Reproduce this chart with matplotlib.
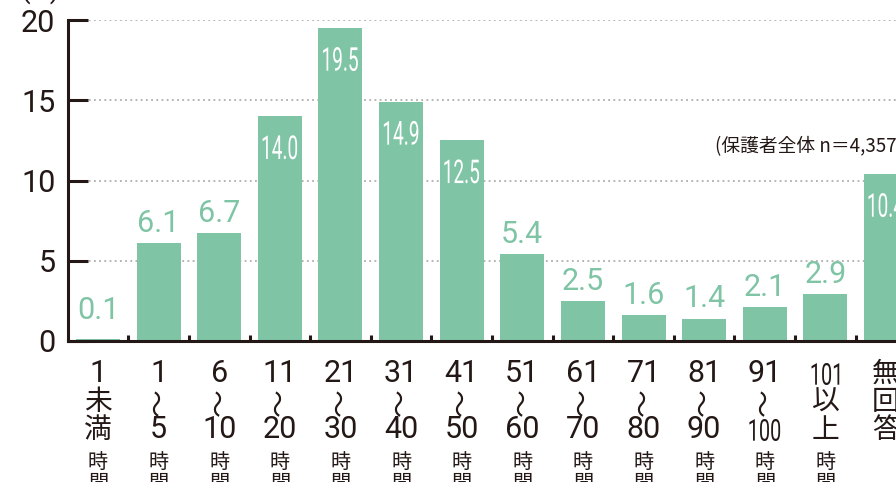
import matplotlib
matplotlib.use("Agg")
import matplotlib.pyplot as plt
from matplotlib.font_manager import FontProperties
from matplotlib.textpath import TextPath
from matplotlib.patches import PathPatch
from matplotlib.transforms import Affine2D, IdentityTransform, blended_transform_factory

# Data (%)
categories = ['1未満', '1〜5', '6〜10', '11〜20', '21〜30', '31〜40', '41〜50',
              '51〜60', '61〜70', '71〜80', '81〜90', '91〜100', '101以上', '無回答']
values = [0.1, 6.1, 6.7, 14.0, 19.5, 14.9, 12.5, 5.4, 2.5, 1.6, 1.4, 2.1, 2.9, 10.4]
# stacked tick label lines (top / middle / bottom), plus 時間 unit
label_top = ['1', '1', '6', '11', '21', '31', '41', '51', '61', '71', '81', '91', '101', '無']
label_mid = ['未', '〜', '〜', '〜', '〜', '〜', '〜', '〜', '〜', '〜', '〜', '〜', '以', '回']
label_bot = ['満', '5', '10', '20', '30', '40', '50', '60', '70', '80', '90', '100', '上', '答']
has_unit = [c != '無回答' for c in categories]
yticks = [0, 5, 10, 15, 20]
note = '(保護者全体 n＝4,357)'

W, H = 896, 482
GREEN = '#80c4a6'
DARK = '#231815'
NUM = FontProperties(family='Roboto', weight='normal')
CJK = 'Noto Sans CJK JP'

fig = plt.figure(figsize=(W / 100, H / 100), dpi=100)
ax = fig.add_axes([68 / W, 1 - 341 / H, 1 - 68 / W, (341 - 20) / H])

x = list(range(len(values)))
ax.bar(x, values, width=0.726, color=GREEN, zorder=2)
ax.set_xlim(-0.495, 13.165)
ax.set_ylim(0, 20)

# axes styling
for s in ['top', 'right']:
    ax.spines[s].set_visible(False)
for s in ['left', 'bottom']:
    ax.spines[s].set_linewidth(2.2)
    ax.spines[s].set_color(DARK)
    ax.spines[s].set_zorder(4)
ax.set_yticks(yticks)
ax.set_yticklabels([str(t) for t in yticks], fontproperties=NUM, fontsize=22, color=DARK)
ax.tick_params(axis='y', direction='in', length=14.5, width=2.2, color=DARK, pad=9)
ax.set_xticks([i + 0.5 for i in x[:-1]])
ax.set_xticklabels([])
ax.tick_params(axis='x', direction='in', length=4.5, width=2.2, color=DARK)
ax.yaxis.grid(True, linestyle=(0, (1.2, 2.2)), linewidth=1.1, color='#a0a0a0', zorder=0)
ax.set_axisbelow(True)


def narrow_text(xpx, ypx, s, height_px, squeeze, color, prop=NUM):
    """Draw horizontally condensed text centred at display (xpx, ypx)."""
    tp = TextPath((0, 0), s, size=100, prop=prop)
    ext = tp.get_extents()
    sy = height_px / ext.height
    tr = (Affine2D().translate(-(ext.x0 + ext.x1) / 2, -(ext.y0 + ext.y1) / 2)
          .scale(sy * squeeze, sy).translate(xpx, ypx))
    fig.add_artist(PathPatch(tr.transform_path(tp), fc=color, ec='none',
                             transform=IdentityTransform(), zorder=5))


# value labels
for i, v in enumerate(values):
    if v >= 10:
        px, py = ax.transData.transform((i, v))
        narrow_text(px, py - 31, f'{v:.1f}', 24, 0.58, 'white')
    else:
        ax.annotate(f'{v:.1f}', (i, max(v, 0.7)), xytext=(0, 8), textcoords='offset points',
                    ha='center', va='baseline', fontproperties=NUM, fontsize=22,
                    color=GREEN, zorder=5)

# stacked category labels below the axis
bt = blended_transform_factory(ax.transData, fig.transFigure)
for i in x:
    rows = [(label_top[i], 374), (label_mid[i], 402), (label_bot[i], 430)]
    for txt, ypx in rows:
        yf = 1 - ypx / H
        if txt == '〜':
            ax.text(i, yf, txt, transform=bt, ha='center', va='center', rotation=90,
                    family=CJK, fontsize=20, color=DARK)
        elif txt.isdigit():
            if len(txt) >= 3:
                px = ax.transData.transform((i, 0))[0]
                narrow_text(px, H - ypx, txt, 22, 0.66, DARK)
            else:
                ax.text(i, yf, txt, transform=bt, ha='center', va='center',
                        fontproperties=NUM, fontsize=22, color=DARK)
        else:
            ax.text(i, yf, txt, transform=bt, ha='center', va='center',
                    family=CJK, fontsize=20, color=DARK)
    if has_unit[i]:
        for txt, ypx in [('時', 463), ('間', 483)]:
            ax.text(i, 1 - ypx / H, txt, transform=bt, ha='center', va='center',
                    family=CJK, fontsize=14.5, color=DARK)

fig.text(715 / W, 1 - 147 / H, note, ha='left', va='center', family=CJK,
         fontsize=13.5, color=DARK)
fig.text(20 / W, 1 - 4 / H, '(%)', ha='left', va='bottom', fontproperties=NUM,
         fontsize=20, color=DARK)

fig.savefig('out.png', dpi=100)
